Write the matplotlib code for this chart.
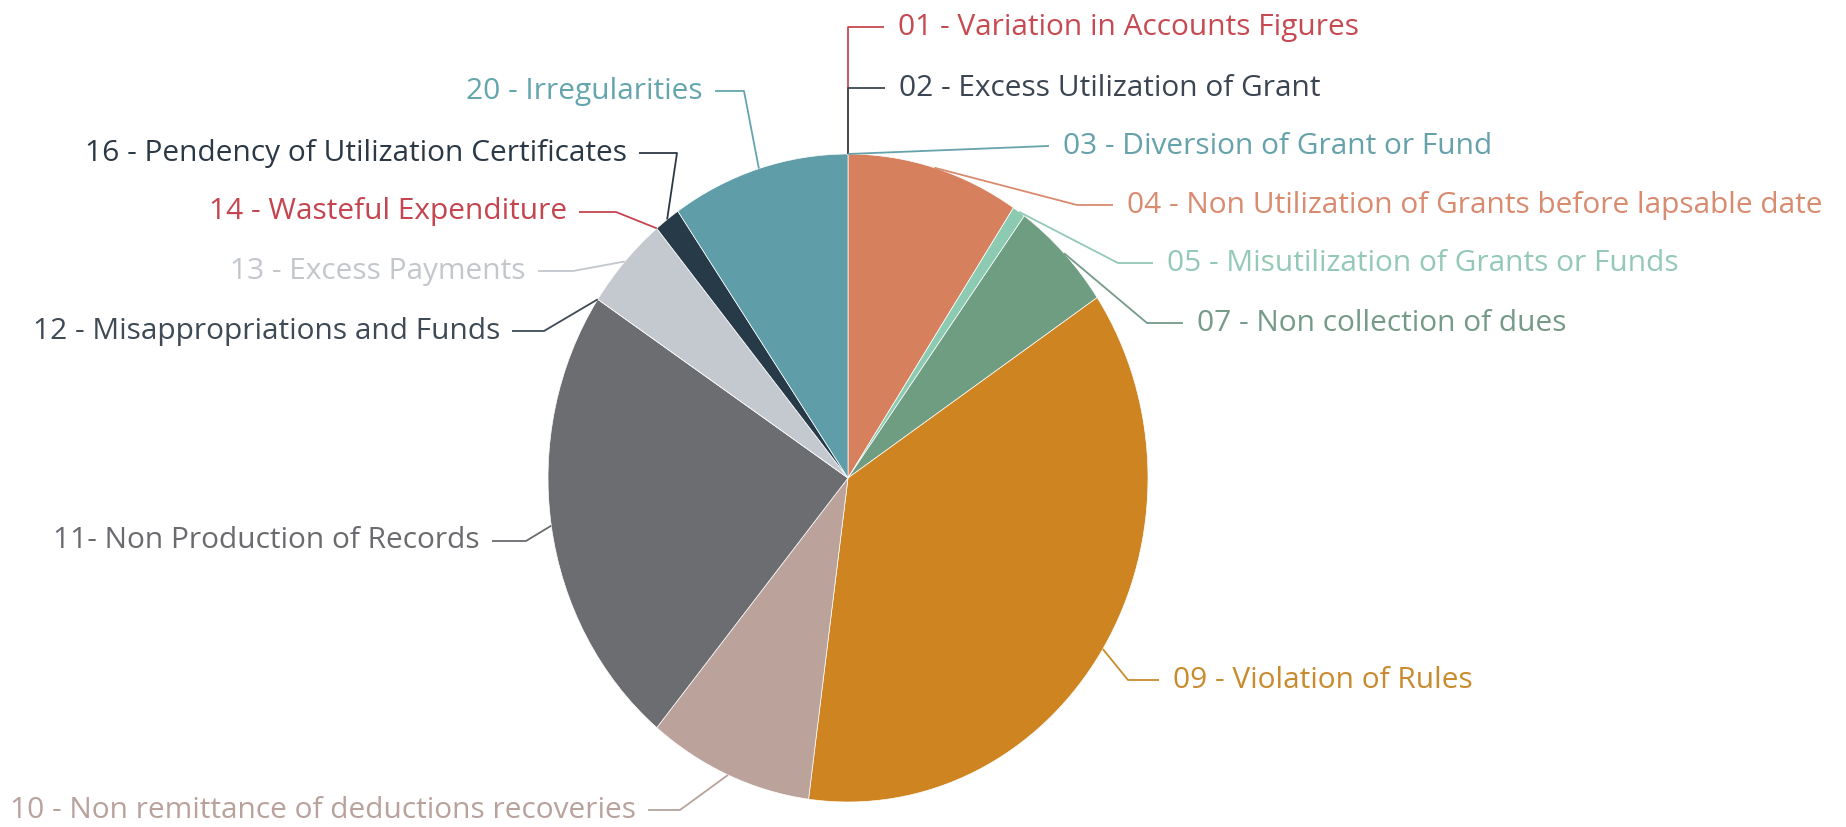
import matplotlib.pyplot as plt
import numpy as np

# slices clockwise from 12 o'clock (share of findings, %)
labels = [
    '01 - Variation in Accounts Figures',
    '02 - Excess Utilization of Grant',
    '03 - Diversion of Grant or Fund',
    '04 - Non Utilization of Grants before lapsable date',
    '05 - Misutilization of Grants or Funds',
    '07 - Non collection of dues',
    '09 - Violation of Rules',
    '10 - Non remittance of deductions recoveries',
    '11- Non Production of Records',
    '12 - Misappropriations and Funds',
    '13 - Excess Payments',
    '14 - Wasteful Expenditure',
    '16 - Pendency of Utilization Certificates',
    '20 - Irregularities',
]
values = [0, 0, 0, 9.3, 0.7, 5.6, 36.5, 8.9, 23.3, 0, 4.7, 0, 1.4, 9.6]

slice_colors = ['#c64a52', '#3b4652', '#5f9ea8', '#d7805e', '#8ccbb1', '#6f9d82',
                '#cd8421', '#bba29a', '#6c6d71', '#3e4a55', '#c4c9d0', '#c4454f',
                '#263a48', '#5f9ea9']
label_colors = ['#c64a52', '#3b4652', '#66a2ab', '#d98b6f', '#93c9b5', '#759a88',
                '#c98b2d', '#b9a29c', '#6a6b6f', '#3e4a55', '#c3c7cc', '#c4454f',
                '#2b3946', '#65a5ae']

# label layout in pixels: elbow x, elbow y, text x, side
layout = [
    (848, 27, 898, 'r'),
    (848, 88, 899, 'r'),
    (1048, 146, 1063, 'r'),
    (1077, 205, 1127, 'r'),
    (1118, 263, 1167, 'r'),
    (1147, 323, 1197, 'r'),
    (1128, 680, 1173, 'r'),
    (680, 810, 636, 'l'),
    (526, 541, 480, 'l'),
    (544, 331, 500, 'l'),
    (573, 271, 526, 'l'),
    (616, 212, 567, 'l'),
    (677, 153, 627, 'l'),
    (744, 91, 703, 'l'),
]

W, H = 1846, 827
CX, CY, RX, RY = 848, 478, 300, 324


def px2d(px, py):
    return (px - CX) / RX, (CY - py) / RY


fig = plt.figure(figsize=(W / 100, H / 100), dpi=100)
ax = fig.add_axes([0, 0, 1, 1])
wedges, _ = ax.pie(values, colors=slice_colors, startangle=90, counterclock=False,
                   radius=1, center=(0, 0),
                   wedgeprops=dict(linewidth=0.5, edgecolor='white'))
ax.set_aspect('auto')
ax.set_xlim(-CX / RX, (W - CX) / RX)
ax.set_ylim((CY - H) / RY, CY / RY)
ax.axis('off')

for w, lab, col, (ex, ey, tx, side) in zip(wedges, labels, label_colors, layout):
    mid = np.deg2rad((w.theta1 + w.theta2) / 2)
    sx, sy = np.cos(mid), np.sin(mid)
    if side == 'r':
        lx = tx - 14
        ha = 'left'
    else:
        lx = tx + 12
        ha = 'right'
    p1 = px2d(ex, ey)
    p2 = px2d(lx, ey)
    ax.plot([sx, p1[0], p2[0]], [sy, p1[1], p2[1]], color=col, lw=1.3,
            solid_capstyle='butt', zorder=3)
    t = px2d(tx, ey)
    ax.text(t[0], t[1], lab, ha=ha, va='center', color=col, fontsize=21.5,
            family=['Open Sans', 'DejaVu Sans'])

fig.savefig('out.png', dpi=100, facecolor='white')
